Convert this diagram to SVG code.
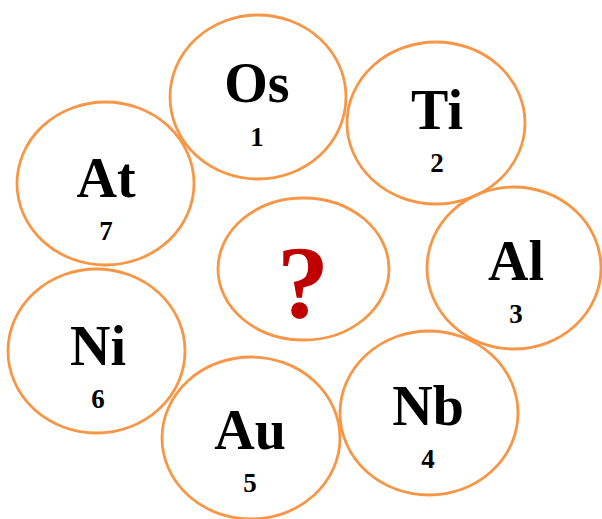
<svg xmlns="http://www.w3.org/2000/svg" width="602" height="519" viewBox="0 0 602 519">
<style>
.c{fill:none;stroke:#f79646;stroke-width:2.8}
.s{font-family:"Liberation Serif","Times New Roman",serif;font-weight:bold;font-size:56px;fill:#000;text-anchor:middle}
.n{font-family:"Liberation Serif","Times New Roman",serif;font-weight:bold;font-size:27px;fill:#000;text-anchor:middle}
.q{font-family:"Liberation Serif","Times New Roman",serif;font-weight:bold;font-size:104px;fill:#c00000;text-anchor:middle}
</style>
<rect width="602" height="519" fill="#fff"/>
<g id="os"><ellipse class="c" cx="258" cy="97" rx="88" ry="82"/><text class="s" x="257" y="102">Os</text><text class="n" x="257" y="146">1</text></g>
<g id="ti"><ellipse class="c" cx="436" cy="123" rx="89" ry="81"/><text class="s" x="437" y="129">Ti</text><text class="n" x="437" y="172">2</text></g>
<g id="al"><ellipse class="c" cx="514" cy="268" rx="87" ry="81"/><text class="s" x="516" y="280">Al</text><text class="n" x="516" y="323">3</text></g>
<g id="nb"><ellipse class="c" cx="429" cy="413" rx="89" ry="82"/><text class="s" x="428" y="425">Nb</text><text class="n" x="428" y="468">4</text></g>
<g id="au"><ellipse class="c" cx="251" cy="438" rx="89" ry="81"/><text class="s" x="250" y="449">Au</text><text class="n" x="250" y="492">5</text></g>
<g id="ni"><ellipse class="c" cx="96.500" cy="351" rx="88.500" ry="82"/><text class="s" x="98" y="365">Ni</text><text class="n" x="98" y="408">6</text></g>
<g id="at"><ellipse class="c" cx="105.500" cy="183.500" rx="88.500" ry="81.500"/><text class="s" x="106" y="197">At</text><text class="n" x="106" y="240">7</text></g>
<g id="center"><ellipse class="c" cx="303.500" cy="269" rx="85.500" ry="71"/><text class="q" x="303" y="318">?</text></g>
<g id="connectors"/>
</svg>
